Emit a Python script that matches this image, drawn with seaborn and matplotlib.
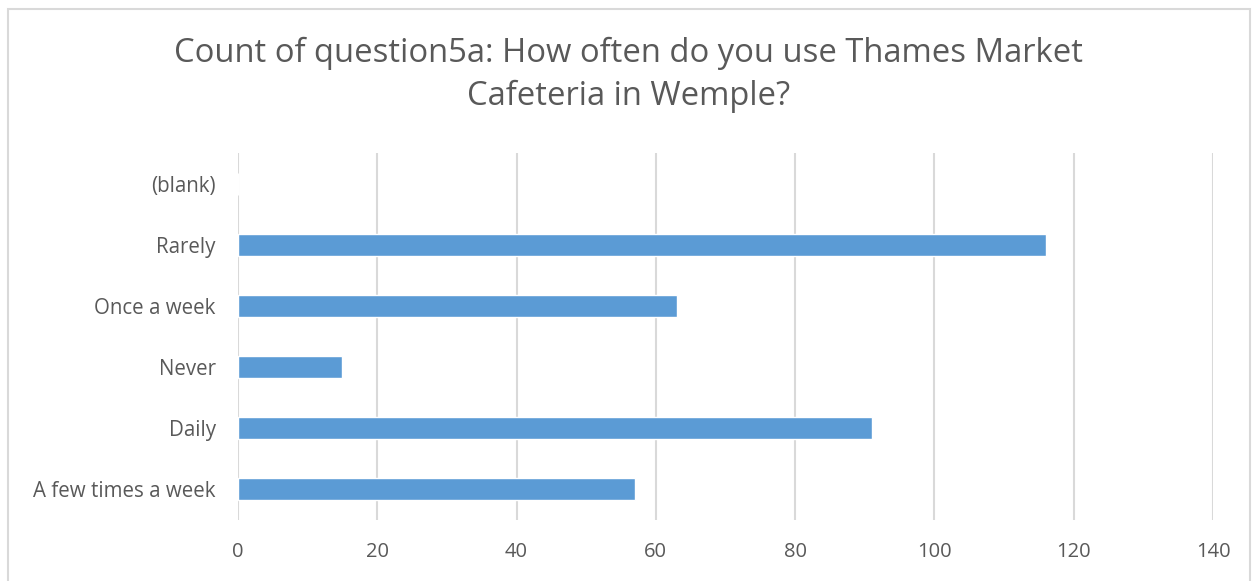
import matplotlib
matplotlib.use("Agg")
import matplotlib.pyplot as plt
import seaborn as sns
import pandas as pd
from matplotlib.patches import Rectangle

# Survey responses, listed top to bottom as drawn
categories = ["(blank)", "Rarely", "Once a week", "Never", "Daily", "A few times a week"]
counts = [0, 116, 63, 15, 91, 57]
x_ticks = [0, 20, 40, 60, 80, 100, 120, 140]

title = "Count of question5a: How often do you use Thames Market\nCafeteria in Wemple?"

df = pd.DataFrame({"category": categories, "count": counts})

sns.set_theme(style="white")
plt.rcParams["font.family"] = ["Open Sans", "DejaVu Sans"]

fig = plt.figure(figsize=(12.58, 5.81), dpi=100)
ax = fig.add_axes([238 / 1258, 61 / 581, 975 / 1258, 367 / 581])

sns.barplot(data=df, x="count", y="category", order=categories,
            color="#5b9bd5", saturation=1, width=0.36, ax=ax, zorder=3)

ax.set_xlim(0, 140)
ax.set_xticks(x_ticks)
ax.set_xticklabels([str(t) for t in x_ticks])
ax.grid(axis="x", color="#d9d9d9", linewidth=1.5, zorder=0)
ax.grid(axis="y", visible=False)
for side in ["top", "right", "left", "bottom"]:
    ax.spines[side].set_visible(False)
ax.tick_params(axis="y", length=0, labelsize=14.8, colors="#595959", pad=16)
ax.tick_params(axis="x", length=0, labelsize=14.5, colors="#595959", pad=16)
ax.set_xlabel("")
ax.set_ylabel("")

fig.text(0.5, 1 - 75 / 581, title, ha="center", va="center", fontsize=23.6,
         color="#595959", linespacing=1.4)

# Chart-area frame
fig.patches.append(Rectangle((8 / 1258, -0.05), 1242 / 1258, 1.05 - 9 / 581,
                             transform=fig.transFigure, fill=False,
                             edgecolor="#d9d9d9", linewidth=1.5))

fig.savefig("out.png", dpi=100, facecolor="white")
